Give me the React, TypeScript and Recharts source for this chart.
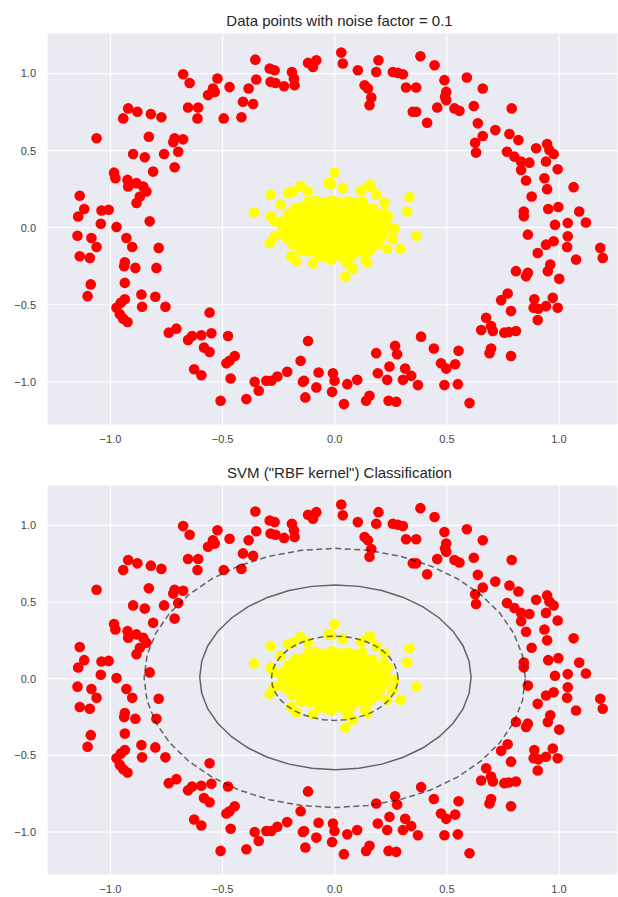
import React from "react";
import { ScatterChart, Scatter, XAxis, YAxis, CartesianGrid } from "recharts";

type Pt = [number, number];

// outer ring (class 0, red)
const ringUpperLeft: Pt[] = [
  [-1.137, 0.207], [-1.144, 0.073], [-1.062, 0.58], [-0.943, 0.709], [-0.921, 0.774], [-0.88, 0.752],
  [-0.82, 0.737], [-0.773, 0.716], [-0.829, 0.59], [-0.899, 0.478], [-0.847, 0.457], [-0.761, 0.478],
  [-0.81, 0.364], [-0.984, 0.357], [-0.978, 0.321], [-0.924, 0.31], [-0.921, 0.267], [-0.884, 0.289],
  [-0.854, 0.267], [-0.84, 0.235], [-0.869, 0.202], [-0.884, 0.16], [-1.04, 0.112], [-1.008, 0.116],
  [-0.714, 0.58], [-0.676, 0.573], [-0.72, 0.555], [-0.698, 0.493], [-0.714, 0.392], [-0.676, 0.995],
  [-0.647, 0.939], [-0.654, 0.78], [-0.609, 0.78], [-0.612, 0.709], [-0.565, 0.86], [-0.543, 0.903],
  [-0.535, 0.881], [-0.523, 0.968], [-0.495, 0.709], [-0.469, 0.913], [-0.416, 0.716], [-0.409, 0.817],
  [-0.364, 0.802], [-0.384, 0.903], [-0.35, 0.961], [-0.354, 1.09], [-0.29, 1.032], [-0.268, 1.021],
  [-0.286, 0.946], [-0.264, 0.939], [-0.226, 0.918], [-0.191, 1.01], [-0.182, 0.968], [-0.179, 0.924],
  [-0.119, 1.069], [-0.097, 1.043], [-0.082, 1.086],
];

const ringUpperRight: Pt[] = [
  [0.029, 1.136], [0.036, 1.065], [0.103, 1.021], [0.133, 0.924], [0.148, 0.903], [0.163, 0.845],
  [0.155, 0.795], [0.185, 1.01], [0.195, 1.086], [0.259, 1.01], [0.282, 1.004], [0.304, 0.995],
  [0.318, 0.909], [0.363, 0.909], [0.348, 0.752], [0.363, 0.752], [0.382, 1.112], [0.412, 0.681],
  [0.445, 1.054], [0.457, 0.78], [0.489, 0.957], [0.497, 0.881], [0.492, 0.849], [0.497, 0.827],
  [0.534, 0.774], [0.556, 0.758], [0.589, 0.974], [0.62, 0.789], [0.66, 0.903], [0.638, 0.677],
  [0.66, 0.595], [0.626, 0.551], [0.63, 0.487], [0.716, 0.633], [0.789, 0.774], [0.779, 0.608],
  [0.819, 0.569], [0.768, 0.493], [0.801, 0.461], [0.831, 0.429], [0.831, 0.375], [0.868, 0.422],
  [0.853, 0.306], [0.898, 0.515], [0.947, 0.543], [0.957, 0.504], [0.976, 0.478], [0.942, 0.429],
  [0.994, 0.379], [0.935, 0.321], [0.947, 0.25], [0.878, 0.202], [1.065, 0.263], [0.952, 0.121],
  [0.997, 0.134], [0.843, 0.105], [1.09, 0.105],
];

const ringLowerRight: Pt[] = [
  [0.843, 0.074], [1.12, 0.034], [0.982, 0.019], [1.039, 0.03], [0.861, -0.045], [1.039, -0.056],
  [1.036, -0.125], [0.976, -0.088], [0.942, -0.11], [0.905, -0.164], [1.184, -0.131], [1.195, -0.196],
  [1.076, -0.207], [0.961, -0.239], [0.95, -0.282], [0.808, -0.282], [0.861, -0.293], [0.853, -0.315],
  [1.001, -0.332], [0.771, -0.427], [0.742, -0.47], [0.786, -0.541], [0.89, -0.465], [0.887, -0.519],
  [0.908, -0.526], [0.942, -0.509], [0.972, -0.455], [0.994, -0.519], [0.905, -0.599], [0.675, -0.584],
  [0.653, -0.664], [0.697, -0.638], [0.705, -0.67], [0.756, -0.681], [0.776, -0.677], [0.808, -0.67],
  [0.697, -0.784], [0.69, -0.814], [0.786, -0.832], [0.385, -0.707], [0.442, -0.784], [0.552, -0.799],
  [0.474, -0.879], [0.497, -0.914], [0.537, -0.886], [0.549, -1.015], [0.489, -1.021], [0.601, -1.138],
  [0.269, -0.767], [0.278, -0.821], [0.185, -0.814], [0.244, -0.901], [0.314, -0.914], [0.341, -0.961],
  [0.304, -0.987], [0.371, -1.021], [0.192, -0.944], [0.234, -0.987], [0.1, -0.987], [0.056, -1.015],
  [-0.008, -0.944], [-0.001, -0.993], [-0.012, -1.065], [0.041, -1.144], [0.14, -1.123], [0.155, -1.09],
  [0.24, -1.123], [0.274, -1.129],
];

const ringLowerLeft: Pt[] = [
  [-0.119, -0.735], [-0.072, -0.939], [-0.137, -0.993], [-0.082, -1.036], [-0.131, -1.101], [-0.152, -0.864],
  [-1.117, 0.121], [-1.043, 0.026], [-0.973, 0.004], [-0.825, 0.041], [-1.147, -0.052], [-1.085, -0.067],
  [-1.062, -0.125], [-1.137, -0.185], [-1.092, -0.196], [-0.929, -0.067], [-0.903, -0.125], [-0.785, -0.131],
  [-0.936, -0.224], [-0.939, -0.25], [-0.889, -0.261], [-0.795, -0.261], [-0.936, -0.358], [-1.088, -0.368],
  [-1.102, -0.444], [-0.862, -0.433], [-0.8, -0.448], [-0.936, -0.465], [-0.859, -0.513], [-0.755, -0.513],
  [-0.973, -0.519], [-0.958, -0.562], [-0.943, -0.59], [-0.924, -0.612], [-0.954, -0.487], [-0.558, -0.551],
  [-0.55, -0.685], [-0.74, -0.681], [-0.706, -0.655], [-0.654, -0.728], [-0.636, -0.703], [-0.595, -0.698],
  [-0.583, -0.778], [-0.558, -0.806], [-0.476, -0.703], [-0.446, -0.832], [-0.469, -0.864], [-0.483, -0.879],
  [-0.464, -0.978], [-0.627, -0.918], [-0.595, -0.957], [-0.509, -1.123], [-0.394, -1.112], [-0.357, -1.0],
  [-0.339, -1.058], [-0.305, -0.993], [-0.283, -0.993], [-0.256, -0.965], [-0.212, -0.935], [-0.142, -1.0],
];

// inner blob (class 1, yellow)
const coreDense: Pt[] = [
  [-0.118, 0.168], [-0.082, 0.175], [-0.05, 0.163], [-0.013, 0.178], [0.021, 0.166], [0.058, 0.172], [0.094, 0.161], [0.124, 0.17],
  [-0.176, 0.127], [-0.141, 0.135], [-0.108, 0.124], [-0.072, 0.138], [-0.039, 0.126], [-0.004, 0.133], [0.031, 0.122], [0.066, 0.137],
  [0.099, 0.128], [0.133, 0.131], [0.168, 0.124],
  [-0.207, 0.088], [-0.173, 0.094], [-0.139, 0.083], [-0.104, 0.092], [-0.068, 0.086], [-0.035, 0.097], [0.002, 0.084], [0.037, 0.093],
  [0.071, 0.087], [0.106, 0.095], [0.14, 0.082], [0.176, 0.091], [0.205, 0.086],
  [-0.226, 0.047], [-0.19, 0.054], [-0.156, 0.043], [-0.122, 0.056], [-0.087, 0.045], [-0.052, 0.052], [-0.018, 0.041], [0.019, 0.055],
  [0.054, 0.046], [0.088, 0.053], [0.123, 0.044], [0.158, 0.057], [0.193, 0.048], [0.224, 0.052],
  [-0.234, 0.008], [-0.201, 0.014], [-0.167, 0.004], [-0.133, 0.012], [-0.098, 0.006], [-0.064, 0.016], [-0.029, 0.003], [0.006, 0.011],
  [0.041, 0.005], [0.075, 0.014], [0.109, 0.007], [0.144, 0.015], [0.178, 0.002], [0.212, 0.01], [0.238, 0.006],
  [-0.229, -0.032], [-0.194, -0.025], [-0.16, -0.036], [-0.125, -0.028], [-0.091, -0.034], [-0.057, -0.024], [-0.022, -0.035], [0.013, -0.027],
  [0.048, -0.033], [0.082, -0.026], [0.117, -0.037], [0.151, -0.029], [0.186, -0.034], [0.221, -0.027],
  [-0.216, -0.068], [-0.181, -0.074], [-0.146, -0.065], [-0.112, -0.077], [-0.077, -0.069], [-0.043, -0.072], [-0.008, -0.066], [0.027, -0.075],
  [0.061, -0.067], [0.096, -0.073], [0.131, -0.064], [0.165, -0.076], [0.2, -0.07],
  [-0.19, -0.107], [-0.155, -0.114], [-0.12, -0.104], [-0.085, -0.116], [-0.05, -0.108], [-0.016, -0.113], [0.019, -0.105], [0.054, -0.117],
  [0.088, -0.109], [0.123, -0.112], [0.158, -0.103], [0.19, -0.111],
  [-0.15, -0.148], [-0.114, -0.155], [-0.079, -0.144], [-0.044, -0.157], [-0.009, -0.146], [0.026, -0.153], [0.061, -0.149], [0.096, -0.156],
  [0.13, -0.145], [0.155, -0.152],
  [-0.07, -0.188], [-0.034, -0.194], [0.002, -0.186], [0.038, -0.195], [0.072, -0.189],
];

const coreFringe: Pt[] = [
  [-0.001, 0.357], [-0.028, 0.289], [-0.016, 0.284], [-0.152, 0.271], [-0.186, 0.235], [-0.286, 0.213],
  [-0.36, 0.099], [-0.286, 0.069], [-0.268, 0.041], [-0.241, 0.149], [-0.208, 0.224], [-0.119, 0.235],
  [0.036, 0.257], [0.118, 0.241], [0.16, 0.271], [0.185, 0.213], [0.222, 0.164], [0.333, 0.198],
  [0.323, 0.105], [0.363, -0.052], [0.266, -0.009], [0.259, -0.073], [0.293, -0.138], [0.234, -0.138],
  [0.163, -0.125], [0.136, -0.207], [0.145, -0.226], [0.056, -0.233], [0.081, -0.267], [0.047, -0.319],
  [-0.016, -0.207], [-0.097, -0.233], [-0.194, -0.185], [-0.171, -0.218], [-0.29, -0.099], [-0.268, -0.056],
  [-0.224, 0.019], [-0.224, -0.045], [-0.06, -0.185], [0.207, -0.067], [0.222, 0.095], [0.237, 0.073],
  [-0.283, 0.073], [0.155, 0.278], [-0.023, 0.293],
];

// decision function contours (levels -1, 0, 1) for the SVM panel
const contourInner: Pt[] = [
  [0.282, 0.003], [0.278, 0.051], [0.265, 0.097], [0.244, 0.141], [0.216, 0.18], [0.181, 0.214], [0.141, 0.241],
  [0.096, 0.261], [0.049, 0.274], [0, 0.278], [-0.049, 0.274], [-0.096, 0.261], [-0.141, 0.241], [-0.181, 0.214],
  [-0.216, 0.18], [-0.244, 0.141], [-0.265, 0.097], [-0.278, 0.051], [-0.282, 0.003], [-0.278, -0.045], [-0.265, -0.091],
  [-0.244, -0.135], [-0.216, -0.174], [-0.181, -0.208], [-0.141, -0.235], [-0.096, -0.255], [-0.049, -0.268], [0, -0.272],
  [0.049, -0.268], [0.096, -0.255], [0.141, -0.235], [0.181, -0.208], [0.216, -0.174], [0.244, -0.135], [0.265, -0.091],
  [0.278, -0.045], [0.282, 0.003],
];

const contourDecision: Pt[] = [
  [0.608, 0.009], [0.599, 0.114], [0.572, 0.215], [0.527, 0.31], [0.466, 0.396], [0.392, 0.47], [0.306, 0.53],
  [0.21, 0.575], [0.108, 0.602], [0.003, 0.611], [-0.102, 0.602], [-0.204, 0.575], [-0.3, 0.53], [-0.386, 0.47],
  [-0.46, 0.396], [-0.521, 0.31], [-0.566, 0.215], [-0.593, 0.114], [-0.602, 0.009], [-0.593, -0.096], [-0.566, -0.197],
  [-0.521, -0.292], [-0.46, -0.378], [-0.386, -0.452], [-0.3, -0.512], [-0.204, -0.557], [-0.102, -0.584], [0.003, -0.593],
  [0.108, -0.584], [0.21, -0.557], [0.306, -0.512], [0.392, -0.452], [0.466, -0.378], [0.527, -0.292], [0.572, -0.197],
  [0.599, -0.096], [0.608, 0.009],
];

const contourOuter: Pt[] = [
  [0.85, 0.005], [0.837, 0.152], [0.799, 0.294], [0.736, 0.428], [0.651, 0.548], [0.547, 0.652], [0.425, 0.737],
  [0.291, 0.799], [0.148, 0.837], [0, 0.85], [-0.148, 0.837], [-0.291, 0.799], [-0.425, 0.737], [-0.547, 0.652],
  [-0.651, 0.548], [-0.736, 0.428], [-0.799, 0.294], [-0.837, 0.152], [-0.85, 0.005], [-0.837, -0.142], [-0.799, -0.284],
  [-0.736, -0.418], [-0.651, -0.538], [-0.547, -0.642], [-0.425, -0.727], [-0.291, -0.789], [-0.148, -0.827], [0, -0.84],
  [0.148, -0.827], [0.291, -0.789], [0.425, -0.727], [0.547, -0.642], [0.651, -0.538], [0.736, -0.418], [0.799, -0.284],
  [0.837, -0.142], [0.85, 0.005],
];

const axisTicks = [-1, -0.5, 0, 0.5, 1];

const toXY = (pts: Pt[]) => pts.map(([x, y]) => ({ x, y }));
const ringData = toXY([...ringUpperLeft, ...ringUpperRight, ...ringLowerRight, ...ringLowerLeft]);
const coreData = toXY([...coreDense, ...coreFringe]);

const FONT = "'Liberation Sans', Arial, sans-serif";
const fmt = (v: number) => (v < 0 ? "\u2212" : "") + Math.abs(v).toFixed(1);

const dot = (color: string) => (p: any) => <circle cx={p.cx} cy={p.cy} r={5.3} fill={color} />;
const noDot = () => <g />;

const contourLine = (dashed: boolean) => ({
  stroke: "#000",
  strokeOpacity: 0.58,
  strokeWidth: 1.5,
  strokeDasharray: dashed ? "6 3.5" : undefined,
  fill: "none",
});

function Panel({ title, top, height, contours }: { title: string; top: number; height: number; contours?: boolean }) {
  const plotTop = 33;
  const axisH = height === 452 ? 27 : 22;
  return (
    <div style={{ position: "absolute", left: 0, top, width: 618, height }}>
      <div
        style={{
          position: "absolute", left: 0, width: 679, top: 12, textAlign: "center",
          fontFamily: FONT, fontSize: 15, lineHeight: "18px", color: "#262626", whiteSpace: "nowrap",
        }}
      >
        {title}
      </div>
      <ScatterChart width={618} height={height} margin={{ top: plotTop, right: 0, bottom: 0, left: 0 }}>
        <CartesianGrid fill="#EAEAF2" fillOpacity={1} stroke="#ffffff" strokeWidth={1.2} />
        <XAxis
          type="number" dataKey="x" domain={[-1.283, 1.263]} ticks={axisTicks} allowDataOverflow
          axisLine={false} tickLine={false} tickMargin={4} height={axisH}
          tick={{ fontSize: 11, fill: "#444", fontFamily: FONT }} tickFormatter={fmt}
        />
        <YAxis
          type="number" dataKey="y" domain={[-1.28, 1.263]} ticks={axisTicks} allowDataOverflow
          axisLine={false} tickLine={false} tickMargin={5} width={47}
          tick={{ fontSize: 11, fill: "#444", fontFamily: FONT }} tickFormatter={fmt}
        />
        <Scatter data={ringData} shape={dot("#ff0000")} isAnimationActive={false} />
        <Scatter data={coreData} shape={dot("#ffff00")} isAnimationActive={false} />
        {contours && (
          <Scatter data={toXY(contourOuter)} shape={noDot} line={contourLine(true)} lineType="joint" isAnimationActive={false} />
        )}
        {contours && (
          <Scatter data={toXY(contourDecision)} shape={noDot} line={contourLine(false)} lineType="joint" isAnimationActive={false} />
        )}
        {contours && (
          <Scatter data={toXY(contourInner)} shape={noDot} line={contourLine(true)} lineType="joint" isAnimationActive={false} />
        )}
      </ScatterChart>
    </div>
  );
}

export default function App() {
  return (
    <div style={{ position: "absolute", left: 0, top: 0, width: 618, height: 897, background: "#fff", overflow: "hidden" }}>
      <Panel title="Data points with noise factor = 0.1" top={0} height={452} />
      <Panel title={'SVM ("RBF kernel") Classification'} top={452} height={445} contours />
    </div>
  );
}
